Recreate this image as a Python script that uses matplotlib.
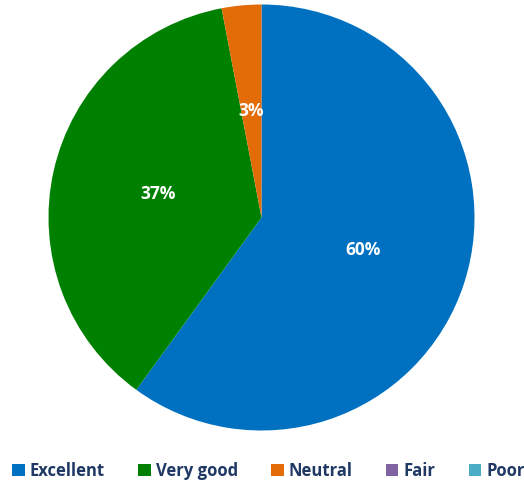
import matplotlib
matplotlib.use('Agg')
import matplotlib.pyplot as plt
from matplotlib.patches import Patch

categorias = ['Excellent', 'Very good', 'Neutral', 'Fair', 'Poor']
valores = [60, 37, 3, 0, 0]
cores = ['#0070C0', '#008000', '#E36C09', '#8064A2', '#4BACC6']

plt.rcParams['font.family'] = ['Open Sans', 'DejaVu Sans']

fig = plt.figure(figsize=(5.24, 4.86), dpi=100)
# eixo posicionado para o circulo ficar no mesmo lugar
ax = fig.add_axes([(261.5 - 213) / 524, (486 - 217.5 - 213) / 486, 426 / 524, 426 / 486])


def pct(p):
    return '%.0f%%' % p if p > 0.5 else ''


fatias, textos, autotextos = ax.pie(valores, colors=cores, startangle=90, counterclock=False,
                                    autopct=pct, pctdistance=0.5, radius=1)
for t in autotextos:
    t.set_color('white')
    t.set_fontweight('bold')
    t.set_fontsize(12.5)
ax.set_xlim(-1, 1)
ax.set_ylim(-1, 1)
ax.set_aspect('equal')
ax.axis('off')

handles = [Patch(facecolor=c, edgecolor='none') for c in cores]
leg = fig.legend(handles, categorias, loc='center', bbox_to_anchor=(0.512, 1 - 471 / 486), ncol=5,
                 frameon=False, handlelength=0.75, handleheight=0.75, handletextpad=0.3,
                 columnspacing=2.0, prop={'weight': 'bold', 'size': 12})
for t in leg.get_texts():
    t.set_color('#1F3864')

fig.savefig('out.png', dpi=100)
